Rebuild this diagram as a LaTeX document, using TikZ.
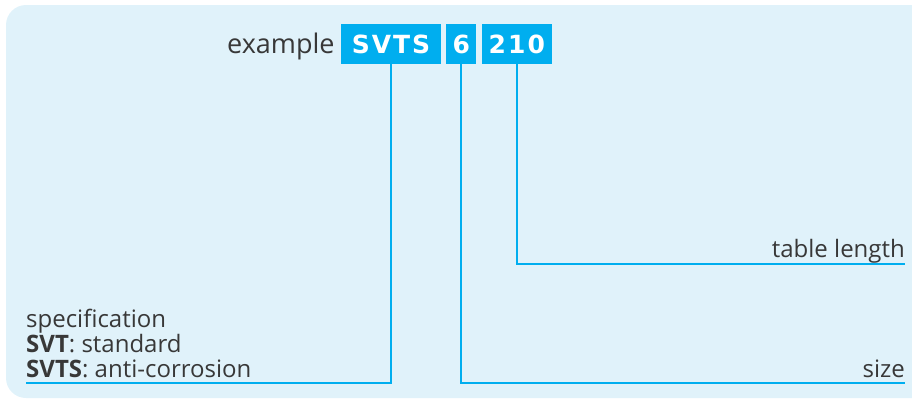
\documentclass[tikz,border=0pt]{standalone}
\usepackage{fontspec}
\setmainfont{Open Sans}
\newfontfamily\codefont{DejaVu Sans}[LetterSpace=8]
\usetikzlibrary{positioning}
\definecolor{Panel}{HTML}{E0F2FA}
\definecolor{Cyan}{HTML}{00AEEF}
\definecolor{Ink}{HTML}{383838}

\begin{document}
\begin{tikzpicture}[x=1pt,y=-1pt,node distance=5pt,
      code/.style={fill=Cyan,text=white,inner sep=0pt,minimum height=40pt,
        font=\codefont\fontsize{25}{25}\selectfont\bfseries},
      lbl/.style={text=Ink,inner sep=0pt,font=\fontsize{24}{25}\selectfont},
      lead/.style={draw=Cyan,line width=2pt}]
      \useasboundingbox (0,0) rectangle (912,399);
      \fill[Panel] (912,5) [rounded corners=20pt] -- (6,5) -- (6,398) [sharp corners] -- (912,398) -- cycle;
      % code boxes
      \node[code,minimum width=100pt] (svts) at (391,44) {SVTS};
      \node[code,minimum width=30pt,right=of svts] (size) {6};
      \node[code,minimum width=70pt,right=of size] (len) {210};
      \node[lbl,font=\fontsize{27}{27}\selectfont,anchor=base east] (ex) at ([xshift=-6pt]svts.base west) {example};
      % labels
      \node[lbl,anchor=base east] (lenlbl) at (905,257) {table length};
      \node[lbl,anchor=base east] (sizelbl) at (905,377) {size};
      \node[lbl,align=left,anchor=base west] (speclbl) at (26,377)
        {specification\\\textbf{SVT}: standard\\\textbf{SVTS}: anti-corrosion};
      \coordinate (lenend) at (905,264);
      \coordinate (sizeend) at (905,383);
      \coordinate (specend) at (26,383);
      % leaders
      \draw[lead] (len.south) |- (lenend);
      \draw[lead] (size.south) |- (sizeend);
      \draw[lead] (svts.south) |- (specend);
    \end{tikzpicture}
\end{document}
